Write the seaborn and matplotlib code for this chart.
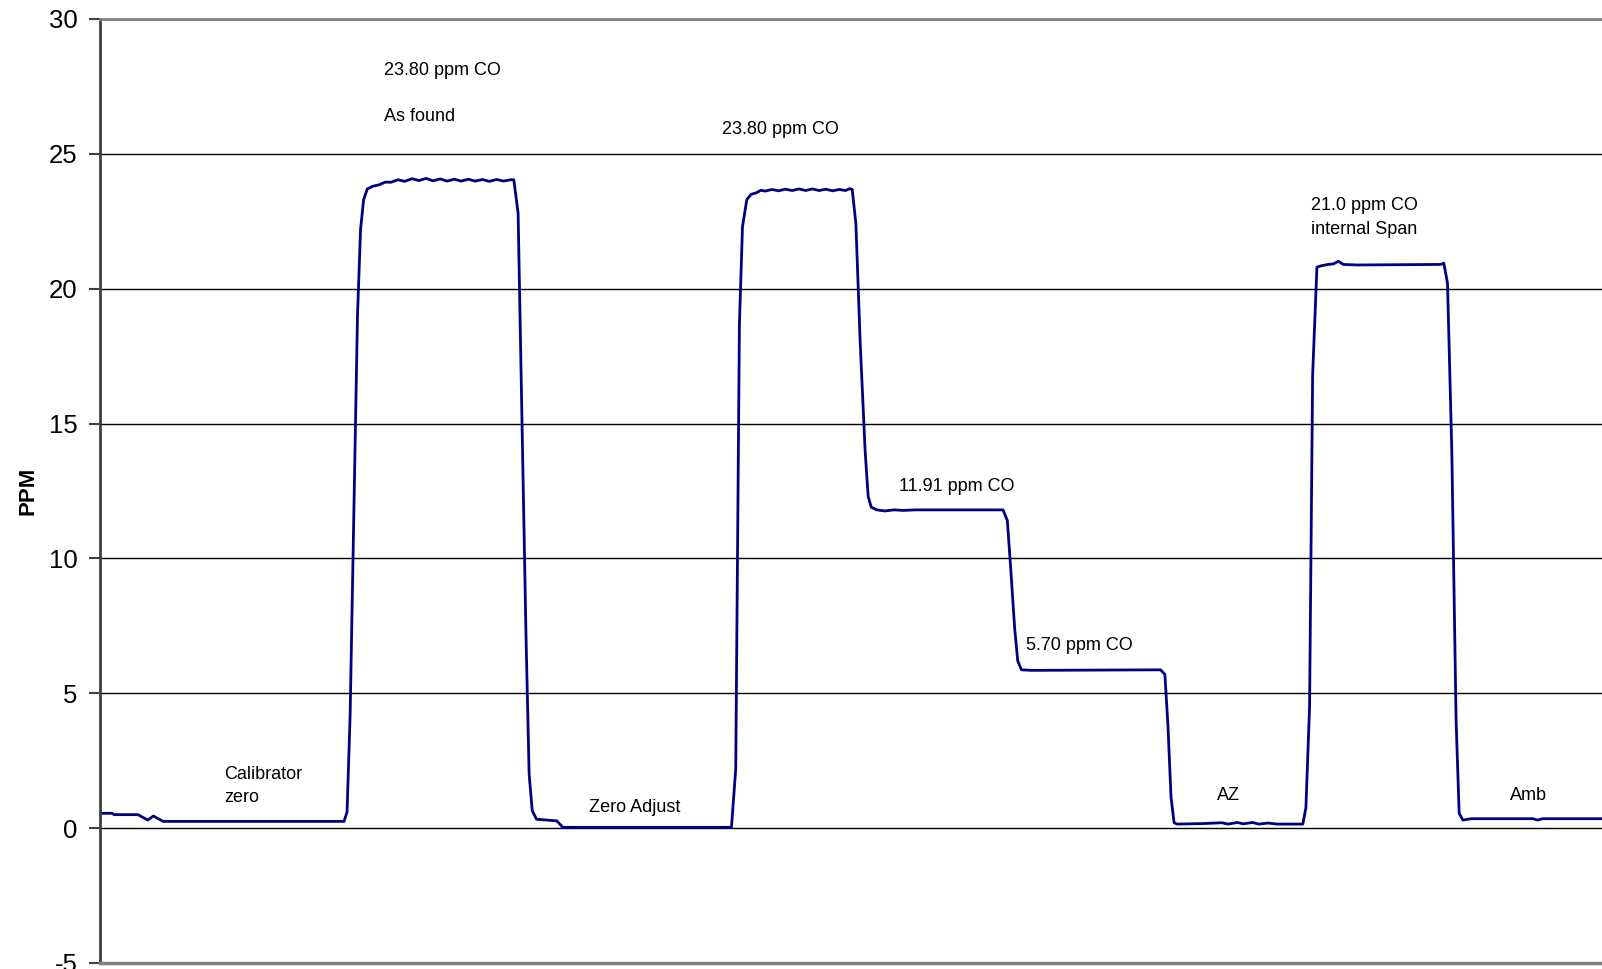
import pandas as pd
import seaborn as sns
import matplotlib.pyplot as plt

# trace vertices (time index, ppm CO)
time_idx = [
    0, 2, 2.3, 6.2, 7.8, 8.7, 10.3, 39.8,
    40.3, 40.8, 42.0, 42.5, 43.0, 43.6, 44.5, 45.5, 46.5, 47.5,
    48.6, 49.7, 50.9, 52.0, 53.2, 54.3, 55.5, 56.6, 57.8, 58.9, 60.1, 61.2, 62.4, 63.5, 64.7, 65.8, 67.0, 67.5,
    68.2, 69.5, 70.0, 70.5, 71.2, 74.5, 75.5, 103.0,
    103.7, 104.3, 104.8, 105.5, 106.2, 107.0, 107.8,
    108.5, 109.6, 110.7, 111.8, 112.9, 114.0, 115.1, 116.2, 117.3, 118.4, 119.5, 120.6, 121.6, 122.3, 122.7,
    123.3, 124.0, 124.8, 125.3, 125.8, 126.7, 128.0, 129.5, 131.0, 133.0, 147.3,
    148.0, 148.5, 149.2, 149.7, 150.3, 152.0, 173.0,
    173.7, 174.2, 174.7, 175.2, 175.7, 180.0, 183.0, 184.0, 185.5, 186.5, 188.0, 189.0, 190.5, 192.0, 196.2,
    196.7, 197.3, 197.8, 198.5, 199.2, 200.3, 201.2, 202.0, 202.8, 205.0, 218.7,
    219.2, 219.8, 220.5, 221.2, 221.7, 222.3, 223.7, 233.7, 234.5, 235.3, 245.0,
]
ppm = [
    0.55, 0.55, 0.5, 0.5, 0.3, 0.45, 0.25, 0.25,
    0.6, 4.2, 19.0, 22.2, 23.3, 23.7, 23.8, 23.85, 23.95, 23.95,
    24.04, 23.98, 24.08, 24.01, 24.09, 24.0, 24.07, 23.99, 24.06, 23.99, 24.06, 23.99, 24.05, 23.98, 24.05, 23.99, 24.04, 24.04,
    22.8, 7.0, 2.0, 0.65, 0.33, 0.27, 0.03, 0.03,
    2.2, 18.7, 22.3, 23.3, 23.5, 23.55, 23.65,
    23.62, 23.68, 23.63, 23.69, 23.64, 23.7, 23.64, 23.7, 23.64, 23.69, 23.63, 23.68, 23.64, 23.71, 23.68,
    22.4, 18.0, 14.0, 12.3, 11.9, 11.8, 11.76, 11.8, 11.78, 11.8, 11.8,
    11.4, 9.8, 7.4, 6.2, 5.87, 5.85, 5.87,
    5.7, 3.8, 1.15, 0.2, 0.15, 0.17, 0.2, 0.15, 0.21, 0.16, 0.21, 0.15, 0.19, 0.15, 0.15,
    0.75, 4.5, 16.8, 20.8, 20.85, 20.9, 20.92, 21.02, 20.9, 20.88, 20.9,
    20.95, 20.2, 14.0, 4.0, 0.55, 0.3, 0.35, 0.35, 0.3, 0.35, 0.35,
]

note_text = ["23.80 ppm CO", "As found", "23.80 ppm CO", "21.0 ppm CO", "internal Span",
             "11.91 ppm CO", "5.70 ppm CO", "Calibrator", "zero", "Zero Adjust", "AZ", "Amb"]
note_t = [46.3, 46.3, 101.5, 197.5, 197.5, 130.3, 151.0, 20.2, 20.2, 79.7, 182.2, 230.0]
note_y = [28.1, 26.4, 25.9, 23.1, 22.2, 12.65, 6.78, 2.0, 1.14, 0.76, 1.21, 1.21]

df = pd.DataFrame({"t": time_idx, "ppm": ppm})

sns.set_style("white")
plt.rcParams['font.family'] = ['Liberation Sans', 'DejaVu Sans']
plt.rcParams['axes.unicode_minus'] = False

fig = plt.figure(figsize=(16.02, 9.69), dpi=100)
ax = fig.add_axes([100/1602, 1 - 963/969, 1 - 100/1602, (963 - 19)/969])

sns.lineplot(data=df, x="t", y="ppm", sort=False, estimator=None,
             color="#000080", lw=2, ax=ax)

ax.set_xlim(0, 245)
ax.set_ylim(-5, 30)
ax.set_yticks(range(-5, 31, 5))
ax.set_xticks([])
ax.set_xlabel("")
ax.yaxis.grid(True, color="black", lw=1)
ax.set_axisbelow(True)
ax.tick_params(axis="y", left=True, length=8, width=1.5, color="#404040",
               labelsize=18.5, labelcolor="black", pad=8)

ax.set_ylabel("PPM", fontsize=16, fontweight="bold", color="black")
ax.yaxis.set_label_coords(-0.041, 0.50)

ax.spines["left"].set_color("#404040")
ax.spines["left"].set_linewidth(2)
ax.spines["bottom"].set_color("#808080")
ax.spines["bottom"].set_linewidth(2.5)
ax.spines["top"].set_color("#808080")
ax.spines["top"].set_linewidth(2)
ax.spines["right"].set_visible(False)

for txt, tx, ty in zip(note_text, note_t, note_y):
    ax.text(tx, ty, txt, fontsize=13, ha="left", va="center", color="black")

plt.savefig("out.png", dpi=100)
